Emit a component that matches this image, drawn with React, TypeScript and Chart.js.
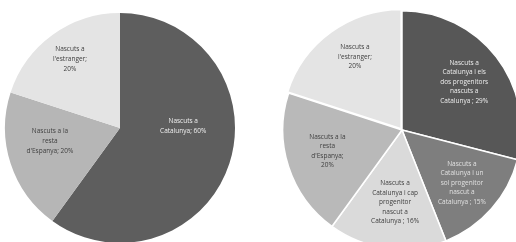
import React, { useEffect, useRef } from "react";
import { Chart, registerables } from "chart.js";

Chart.register(...registerables);

// Left chart data
const leftCategories = [
  ["Nascuts a", "Catalunya; 60%"],
  ["Nascuts a la", "resta", "d'Espanya; 20%"],
  ["Nascuts a", "l'estranger;", "20%"],
];
const leftValues = [60, 20, 20];
const leftColors = ["#5e5e5e", "#b6b6b6", "#e4e4e4"];
const leftTextColors = ["#f0f0f0", "#404040", "#404040"];
// label placement: [fraction along slice angle, fraction of radius]
const leftLabelPos = [
  [0.41, 0.55],
  [0.6, 0.62],
  [0.5, 0.74],
];
const leftOffsets = [0, 0, 0];

// Right chart data
const rightCategories = [
  ["Nascuts a", "Catalunya i els", "dos progenitors", "nascuts a", "Catalunya ; 29%"],
  ["Nascuts a", "Catalunya i un", "sol progenitor", "nascut a", "Catalunya ; 15%"],
  ["Nascuts a", "Catalunya i cap", "progenitor", "nascut a", "Catalunya ; 16%"],
  ["Nascuts a la", "resta", "d'Espanya;", "20%"],
  ["Nascuts a", "l'estranger;", "20%"],
];
const rightValues = [29, 15, 16, 20, 20];
const rightColors = ["#575757", "#7e7e7e", "#dadada", "#b9b9b9", "#e4e4e4"];
const rightTextColors = ["#eeeeee", "#e0e0e0", "#404040", "#404040", "#404040"];
const rightLabelPos = [
  [0.5, 0.66],
  [0.5, 0.67],
  [0.47, 0.61],
  [0.53, 0.65],
  [0.55, 0.68],
];
const rightOffsets = [0, 0, 0, 0, 6];

const labelPlugin = {
  id: "sliceLabels",
  afterDatasetsDraw(chart: any) {
    const opts = chart.options.plugins.sliceLabels;
    const meta = chart.getDatasetMeta(0);
    const ctx = chart.ctx;
    ctx.save();
    ctx.font = "6.5px 'Open Sans', 'Liberation Sans', sans-serif";
    ctx.textAlign = "center";
    ctx.textBaseline = "middle";
    meta.data.forEach((arc: any, i: number) => {
      const { x, y, startAngle, endAngle, outerRadius } = arc.getProps(
        ["x", "y", "startAngle", "endAngle", "outerRadius"],
        true
      );
      const [af, rf] = opts.pos[i];
      const a = startAngle + af * (endAngle - startAngle);
      const off = opts.offsets[i] || 0;
      const mid = (startAngle + endAngle) / 2;
      const cx = x + Math.cos(a) * rf * outerRadius + Math.cos(mid) * off;
      const cy = y + Math.sin(a) * rf * outerRadius + Math.sin(mid) * off;
      const lines: string[] = opts.labels[i];
      const lh = opts.lineHeight;
      ctx.fillStyle = opts.colors[i];
      lines.forEach((t, k) => {
        ctx.fillText(t, cx, cy + (k - (lines.length - 1) / 2) * lh);
      });
    });
    ctx.restore();
  },
};

function PieChart(props: {
  values: number[];
  colors: string[];
  labels: string[][];
  textColors: string[];
  pos: number[][];
  offsets: number[];
  size: number;
  padding: number;
  borderWidth: number;
  lineHeight: number;
  style: React.CSSProperties;
}) {
  const ref = useRef<HTMLCanvasElement | null>(null);
  useEffect(() => {
    if (!ref.current) return;
    const chart = new Chart(ref.current, {
      type: "pie",
      data: {
        labels: props.labels.map((l) => l.join(" ")),
        datasets: [
          {
            data: props.values,
            backgroundColor: props.colors,
            borderColor: "#ffffff",
            borderWidth: props.borderWidth,
            offset: props.offsets,
          },
        ],
      },
      options: {
        responsive: false,
        animation: false,
        layout: { padding: props.padding },
        plugins: {
          legend: { display: false },
          tooltip: { enabled: false },
          sliceLabels: {
            labels: props.labels,
            colors: props.textColors,
            pos: props.pos,
            offsets: props.offsets,
            lineHeight: props.lineHeight,
          },
        } as any,
      },
      plugins: [labelPlugin],
    });
    return () => chart.destroy();
  }, []);
  return (
    <canvas
      ref={ref}
      width={props.size}
      height={props.size}
      style={{ position: "absolute", ...props.style }}
    />
  );
}

export default function App() {
  return (
    <div
      style={{
        position: "fixed",
        left: 0,
        top: 0,
        width: 516,
        height: 242,
        overflow: "hidden",
        background: "#ffffff",
      }}
    >
      <PieChart
        values={leftValues}
        colors={leftColors}
        labels={leftCategories}
        textColors={leftTextColors}
        pos={leftLabelPos}
        offsets={leftOffsets}
        size={240}
        padding={5}
        borderWidth={0}
        lineHeight={10}
        style={{ left: 0, top: 8 }}
      />
      <PieChart
        values={rightValues}
        colors={rightColors}
        labels={rightCategories}
        textColors={rightTextColors}
        pos={rightLabelPos}
        offsets={rightOffsets}
        size={246}
        padding={0}
        borderWidth={1.5}
        lineHeight={9.5}
        style={{ left: 279, top: 7 }}
      />
    </div>
  );
}
